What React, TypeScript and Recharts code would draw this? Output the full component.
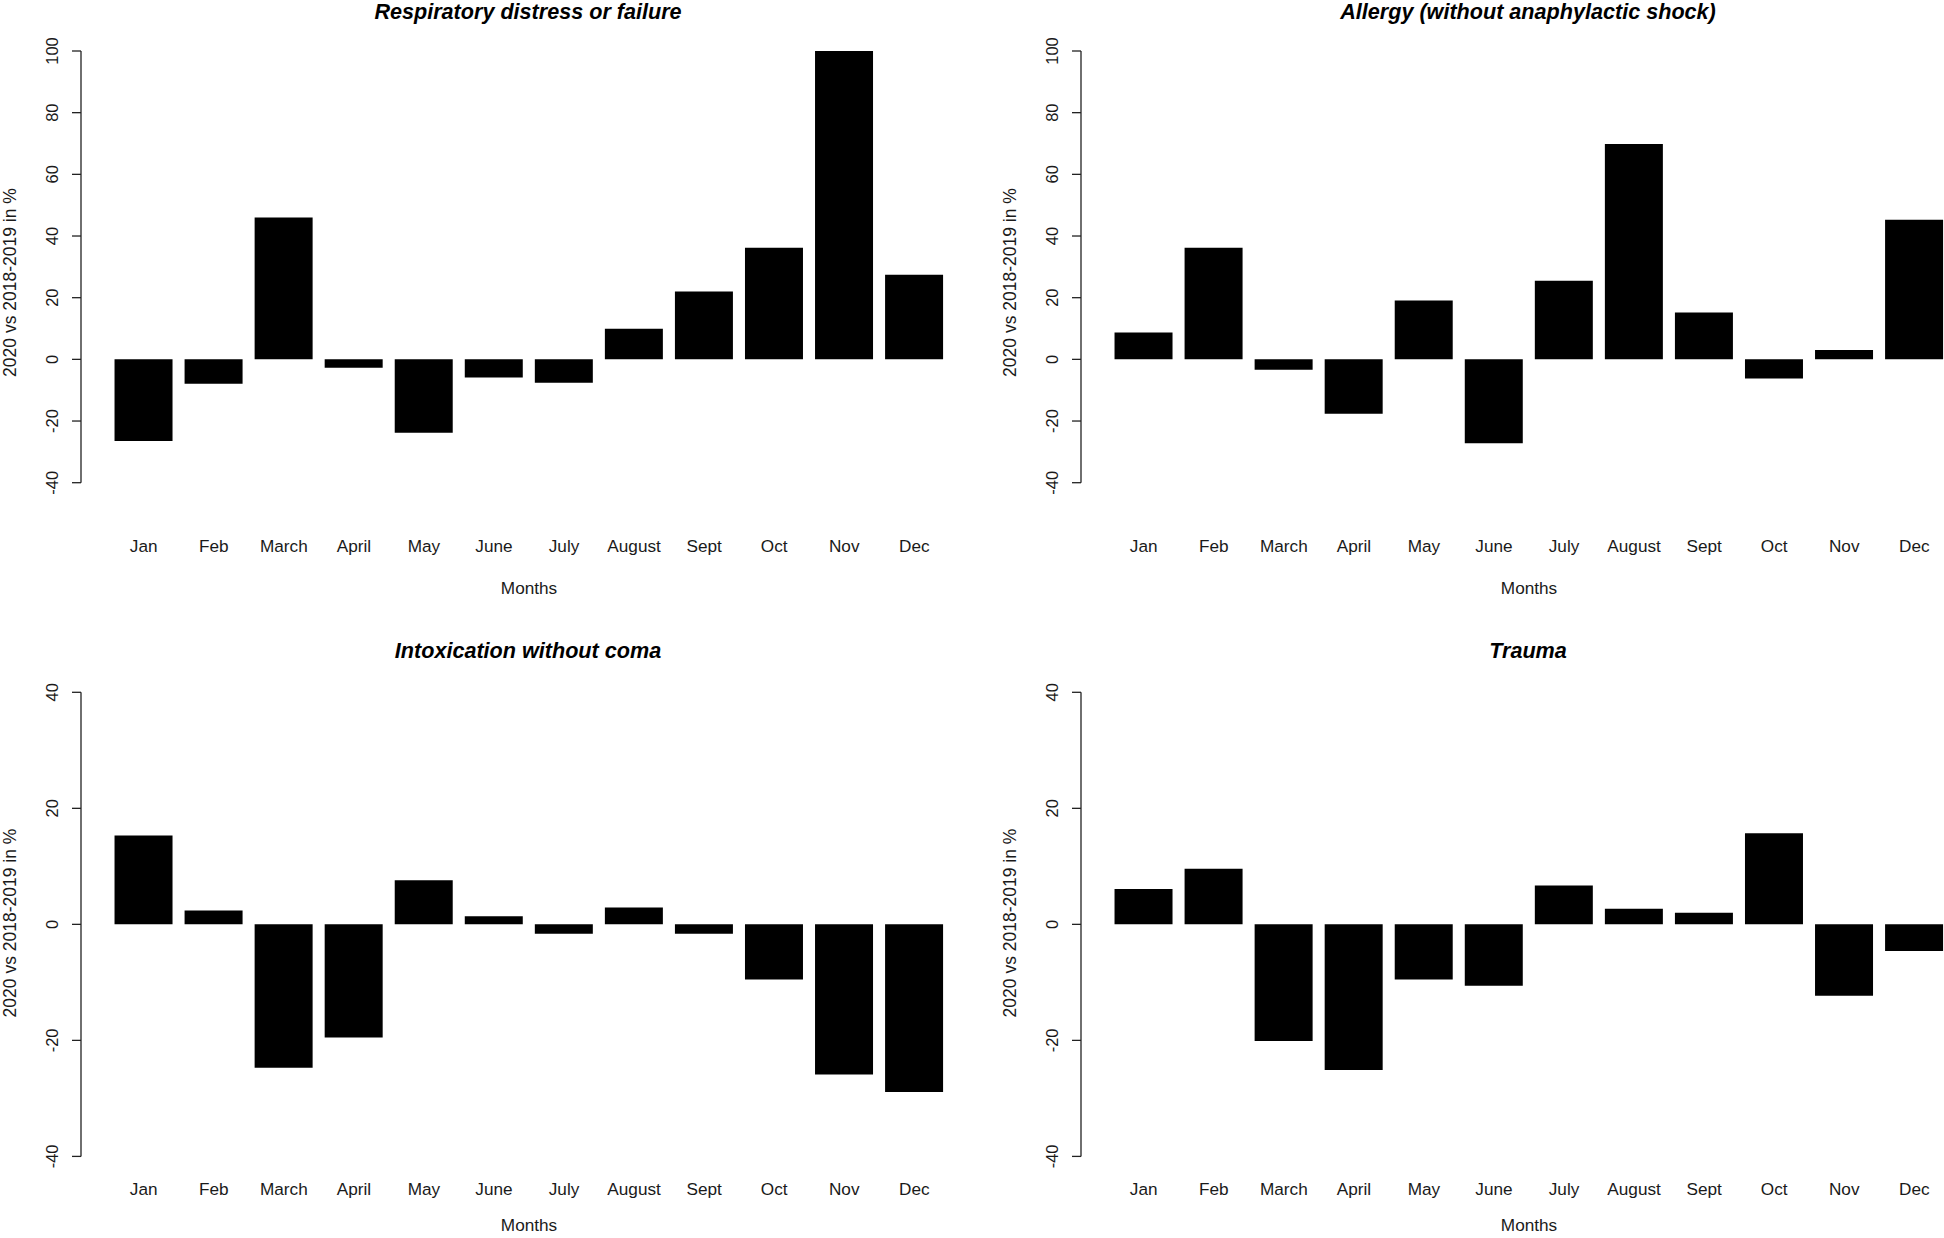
import React from 'react';
import { BarChart, Bar, XAxis, YAxis } from 'recharts';

const months = ['Jan', 'Feb', 'March', 'April', 'May', 'June', 'July', 'August', 'Sept', 'Oct', 'Nov', 'Dec'];

// 2020 vs 2018-2019 in %
const respiratory = [-26.5, -7.9, 46.0, -2.7, -23.8, -5.9, -7.6, 9.9, 22.0, 36.2, 100.5, 27.4];
const allergy = [8.7, 36.2, -3.4, -17.6, 19.1, -27.2, 25.5, 69.8, 15.2, -6.2, 3.0, 45.3];
const intoxication = [15.3, 2.4, -24.7, -19.5, 7.6, 1.4, -1.6, 2.9, -1.6, -9.5, -25.9, -28.9];
const trauma = [6.1, 9.6, -20.1, -25.1, -9.5, -10.6, 6.7, 2.7, 2.0, 15.7, -12.3, -4.6];

const topTicks = [-40, -20, 0, 20, 40, 60, 80, 100];
const bottomTicks = [-40, -20, 0, 20, 40];

const FONT = '"Liberation Sans", Arial, Helvetica, sans-serif';
const INK = '#1a1a1a';

interface PanelProps {
  left: number;
  top: number;
  height: number;
  values: number[];
  ticks: number[];
  plotTop: number;
  plotBottom: number;
  monthY: number;
}

const YTick = (props: any) => {
  const { y, payload } = props;
  return (
    <text x={58} y={y} transform={`rotate(-90, 58, ${y})`} textAnchor="middle"
      fontFamily={FONT} fontSize={16.5} fill={INK}>
      {payload.value}
    </text>
  );
};

const Panel: React.FC<PanelProps> = ({ left, top, height, values, ticks, plotTop, plotBottom, monthY }) => {
  const data = months.map((m, i) => ({ month: m, value: values[i] }));
  const XTick = (props: any) => (
    <text x={props.x} y={monthY} textAnchor="middle" fontFamily={FONT} fontSize={17.2} fill={INK}>
      {props.payload.value}
    </text>
  );
  return (
    <div style={{ position: 'absolute', left, top }}>
      <BarChart width={1000} height={height} data={data} barCategoryGap="8.32%"
        margin={{ top: plotTop, right: 50.7, left: 0, bottom: 0 }}>
        <XAxis dataKey="month" interval={0} axisLine={false} tickLine={false}
          height={height - plotBottom} padding={{ left: 27.7, right: 0 }} tick={XTick} />
        <YAxis domain={[ticks[0], ticks[ticks.length - 1]]} ticks={ticks} allowDataOverflow
          width={81} tickSize={9} axisLine={{ stroke: '#222', strokeWidth: 1.3 }}
          tickLine={{ stroke: '#222', strokeWidth: 1.3 }} tick={YTick} />
        <Bar dataKey="value" fill="#000" isAnimationActive={false} />
      </BarChart>
    </div>
  );
};

const Labels: React.FC<{ dx: number; title: string; titleY: number; monthsY: number; ylabY: number }> = ({ dx, title, titleY, monthsY, ylabY }) => (
  <g fontFamily={FONT} fill={INK}>
    <text x={dx + 528} y={titleY} textAnchor="middle" fontSize={21.6} fontWeight="bold" fontStyle="italic" fill="#000">
      {title}
    </text>
    <text x={dx + 529} y={monthsY} textAnchor="middle" fontSize={17.2}>Months</text>
    <text x={dx + 16} y={ylabY} transform={`rotate(-90, ${dx + 16}, ${ylabY})`} textAnchor="middle" fontSize={17.5}>
      2020 vs 2018-2019 in %
    </text>
  </g>
);

export default function App() {
  return (
    <div style={{ position: 'absolute', left: 0, top: 0, width: 1944, height: 1238, overflow: 'hidden', background: '#fff' }}>
      <Panel left={0} top={0} height={620} values={respiratory} ticks={topTicks} plotTop={51} plotBottom={482.7} monthY={552.3} />
      <Panel left={1000} top={0} height={620} values={allergy} ticks={topTicks} plotTop={51} plotBottom={482.7} monthY={552.3} />
      <Panel left={0} top={620} height={618} values={intoxication} ticks={bottomTicks} plotTop={72.3} plotBottom={536.4} monthY={575} />
      <Panel left={1000} top={620} height={618} values={trauma} ticks={bottomTicks} plotTop={72.3} plotBottom={536.4} monthY={575} />
      <svg width={1944} height={1238} style={{ position: 'absolute', left: 0, top: 0, pointerEvents: 'none' }}>
        <Labels dx={0} title="Respiratory distress or failure" titleY={19} monthsY={594} ylabY={282.5} />
        <Labels dx={1000} title="Allergy (without anaphylactic shock)" titleY={19} monthsY={594} ylabY={282.5} />
        <Labels dx={0} title="Intoxication without coma" titleY={658} monthsY={1231} ylabY={923} />
        <Labels dx={1000} title="Trauma" titleY={658} monthsY={1231} ylabY={923} />
      </svg>
    </div>
  );
}
